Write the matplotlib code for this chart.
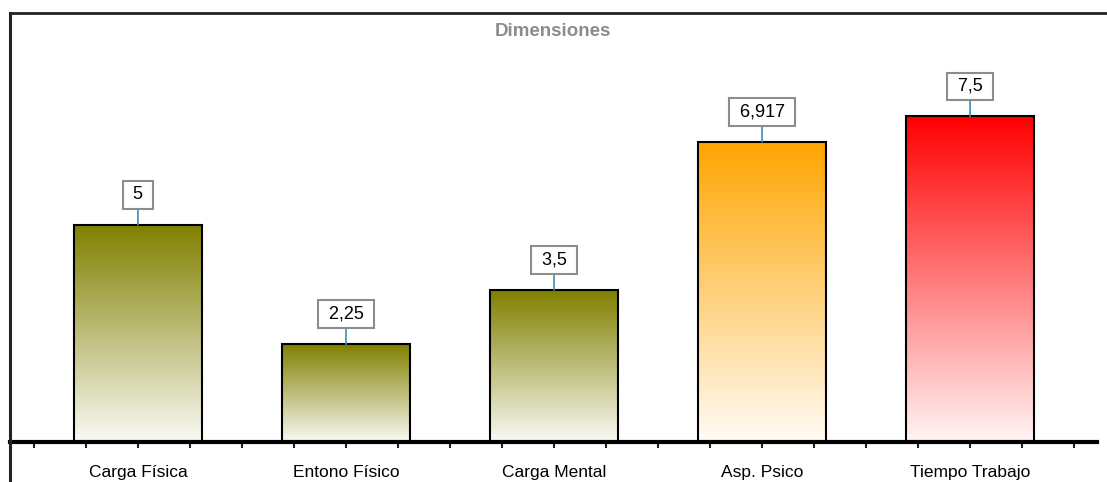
import numpy as np
import matplotlib
matplotlib.use("Agg")
import matplotlib.pyplot as plt
from matplotlib.colors import LinearSegmentedColormap, to_rgb
from matplotlib.lines import Line2D

# datos
categorias = ["Carga Física", "Entono Físico", "Carga Mental", "Asp. Psico", "Tiempo Trabajo"]
valores = [5, 2.25, 3.5, 6.917, 7.5]
colores = ["#808000", "#808000", "#808000", "#FFA500", "#FF0000"]
titulo = "Dimensiones"

def etiqueta(v):
    if float(v).is_integer():
        return str(int(v))
    return str(v).replace(".", ",")

def degradado(color):
    c = np.array(to_rgb(color))
    claro = c + (1 - c) * 0.96
    return LinearSegmentedColormap.from_list("g", [claro, c])

fig = plt.figure(figsize=(11.07, 4.82), dpi=100)
W, H = 1107, 482
ax = fig.add_axes([10/W, 1 - 442/H, 1087/W, (442-13)/H])
escala = 43.4  # px por unidad

x = np.arange(len(categorias))
barras = ax.bar(x, valores, width=128/208, facecolor="none", edgecolor="black",
                linewidth=1.5, zorder=3)

grad = np.linspace(0, 1, 256).reshape(-1, 1)
for b, col in zip(barras, colores):
    x0, w, h = b.get_x(), b.get_width(), b.get_height()
    ax.imshow(grad, extent=[x0, x0 + w, 0, h], origin="lower", aspect="auto",
              cmap=degradado(col), zorder=2, interpolation="bilinear")

for b, v in zip(barras, valores):
    ax.annotate(" " + etiqueta(v) + " ", xy=(b.get_x() + b.get_width()/2, b.get_height()),
                xytext=(0, 15.5), textcoords="offset points", ha="center", va="bottom",
                fontsize=13, family="Liberation Sans",
                bbox=dict(boxstyle="square,pad=0.3", fc="white", ec="#8c8c8c", lw=1.5),
                arrowprops=dict(arrowstyle="-", color="#3d8fb5", lw=1.2,
                                shrinkA=0, shrinkB=0), zorder=4)

ax.set_xlim(-0.615, 4.61)
ax.set_ylim(0, (442-13)/escala)

for s in ["top", "right", "left"]:
    ax.spines[s].set_visible(False)
ax.spines["bottom"].set_linewidth(3)
ax.spines["bottom"].set_zorder(5)

ax.set_yticks([])
ax.set_xticks(np.arange(-0.5, 4.51, 0.25))
ax.set_xticklabels([])
ax.tick_params(axis="x", direction="out", length=4, width=1.5, color="#222222")
for xi, nombre in zip(x, categorias):
    ax.text(xi, -35/escala, nombre, ha="center", va="baseline", fontsize=12.5,
            family="Liberation Sans", clip_on=False)

fig.text(553/W, 1 - 32/H, titulo, ha="center", va="center", fontsize=13.5,
         fontweight="bold", color="#8c8c8c", family="Liberation Sans")

# marco
fig.add_artist(Line2D([9.5/W, 9.5/W], [0, 1 - 13/H], color="#222222", lw=2.2))
fig.add_artist(Line2D([9.5/W, 1], [1 - 13/H, 1 - 13/H], color="#222222", lw=2.0))

fig.savefig("out.png", dpi=100, facecolor="white")
